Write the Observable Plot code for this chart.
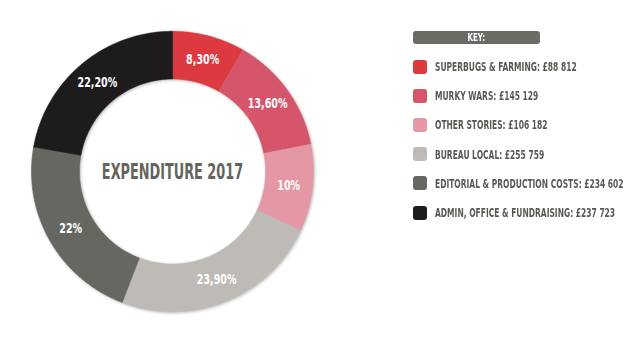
<!DOCTYPE html>
<html><head><meta charset="utf-8">
<script src="https://cdn.jsdelivr.net/npm/d3@7"></script>
<script src="https://cdn.jsdelivr.net/npm/@observablehq/plot@0.6"></script>
<style>
body{margin:0;background:#fff;}
#wrap{position:relative;width:630px;height:355px;font-family:"DejaVu Sans Condensed","DejaVu Sans",sans-serif;font-weight:bold;}
#chart{position:absolute;left:0;top:0;}
#key{position:absolute;left:413px;top:31px;width:215px;}
.kh{width:127px;height:13px;background:#6b6b66;border-radius:3px;color:#fff;font-size:11px;text-align:center;line-height:13px;}
.kh span{display:inline-block;transform:scaleX(0.72);}
.rows{margin-top:8px;}
.row{display:flex;align-items:center;height:29.2px;}
.sw{width:14px;height:14px;border-radius:3px;margin-right:8px;flex:none;}
.lab{color:#585853;font-size:12.5px;white-space:nowrap;transform:scaleX(0.67);transform-origin:left center;}
.ring{filter:drop-shadow(1px 1.5px 1.5px rgba(0,0,0,0.28));}
</style></head>
<body>
<div id="wrap"><div id="chart"></div><div id="key"><div class="kh"><span>KEY:</span></div><div class="rows"></div></div></div>
<script>
const categories = ["SUPERBUGS & FARMING","MURKY WARS","OTHER STORIES","BUREAU LOCAL","EDITORIAL & PRODUCTION COSTS","ADMIN, OFFICE & FUNDRAISING"];
const amounts = [88812,145129,106182,255759,234602,237723];
const shares = [8.3,13.6,10,23.9,22,22.2];
const shareLabels = ["8,30%","13,60%","10%","23,90%","22%","22,20%"];
const colors = ["#dc3a40","#d5566a","#e498a5","#bebbb6","#666761","#1d1b1c"];
const title = "EXPENDITURE 2017";

const R1 = 1, R0 = 0.66;
const total = d3.sum(shares);
let cum = 0;
const slices = categories.map((c,i)=>{
  const a0 = cum/total*2*Math.PI; cum += shares[i];
  const a1 = cum/total*2*Math.PI;
  return {cat:c, a0, a1, label:shareLabels[i]};
});
const poly = [];
for (const s of slices) {
  const n = 80;
  const pts = [];
  for (let k=0;k<=n;k++){const a=s.a0+(s.a1-s.a0)*k/n; pts.push({cat:s.cat,x:R1*Math.sin(a),y:R1*Math.cos(a)});}
  for (let k=n;k>=0;k--){const a=s.a0+(s.a1-s.a0)*k/n; pts.push({cat:s.cat,x:R0*Math.sin(a),y:R0*Math.cos(a)});}
  pts.push(pts[0]);
  poly.push(...pts);
}
const labs = slices.map(s=>{const a=(s.a0+s.a1)/2, r=(R1+R0)/2; return {x:r*Math.sin(a), y:r*Math.cos(a), label:s.label};});

const half = 172/141;
const font = "DejaVu Sans Condensed, DejaVu Sans, sans-serif";
const plot = Plot.plot({
  width:344, height:342, margin:0,
  x:{domain:[-half,half], axis:null},
  y:{domain:[-half,half], axis:null},
  color:{domain:categories, range:colors},
  marks:[
    Plot.line(poly,{x:"x",y:"y",z:"cat",fill:"cat",stroke:"cat",strokeWidth:0.6,className:"ring"}),
    Plot.text(labs,{x:"x",y:"y",text:"label",fill:"white",fontSize:14,fontWeight:"bold",fontFamily:font,className:"slab"}),
    Plot.text([title],{frameAnchor:"middle",text:d=>d,fill:"#64645e",fontSize:22,fontWeight:"bold",fontFamily:font,className:"ttl"})
  ]
});
document.getElementById("chart").appendChild(plot);
function squeeze(sel, k){
  plot.querySelectorAll(sel+" text").forEach(t=>{
    const b = t.getBBox();
    const cx = b.x + b.width/2;
    const tr = t.getAttribute("transform") || "";
    t.setAttribute("transform", `${tr} translate(${cx},0) scale(${k},1) translate(${-cx},0)`);
  });
}
squeeze(".slab",0.76);
squeeze(".ttl",0.65);

const rows = d3.select("#key .rows");
const fmt = v => "£" + d3.format(",")(v).replace(/,/g," ");
categories.forEach((c,i)=>{
  const r = rows.append("div").attr("class","row");
  r.append("div").attr("class","sw").style("background",colors[i]);
  r.append("div").attr("class","lab").text(c+": "+fmt(amounts[i]));
});
</script>
</body></html>
